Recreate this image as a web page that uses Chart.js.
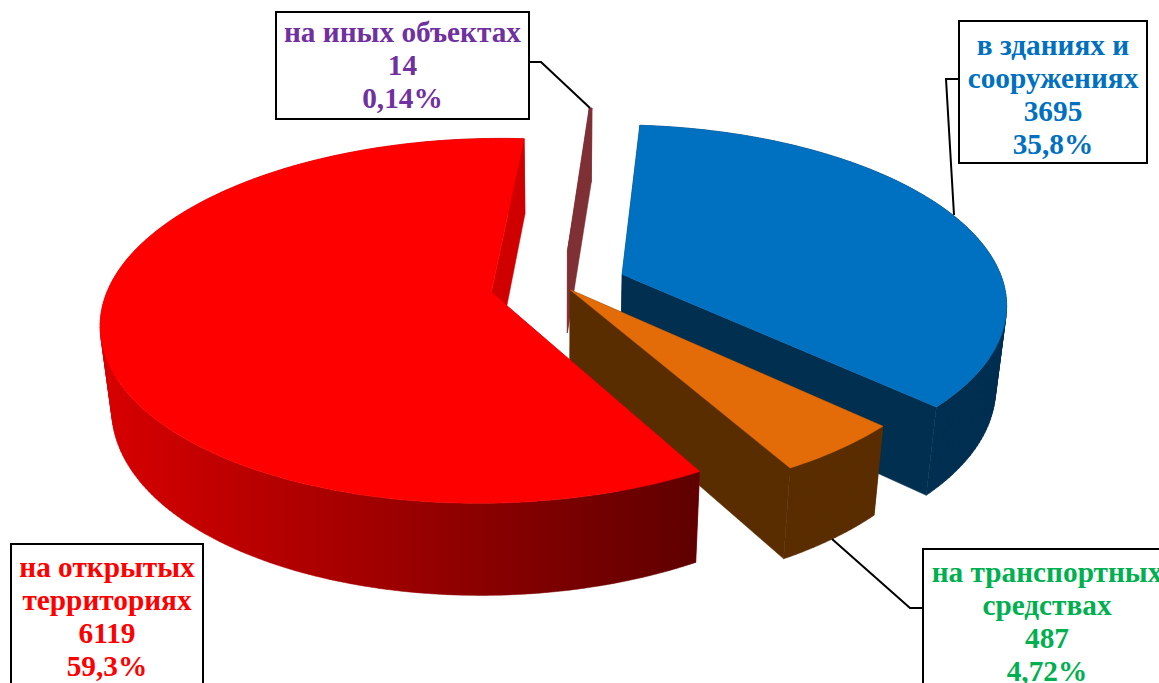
<!DOCTYPE html>
<html lang="ru">
<head>
  <meta charset="UTF-8">
  <title>Пожары по местам возникновения</title>
  <script src="https://cdn.jsdelivr.net/npm/chart.js"></script>
  <style>
    html, body { margin: 0; padding: 0; background: #fff; width: 1159px; height: 683px; overflow: hidden; }
    #wrap { position: relative; width: 1159px; height: 683px; overflow: hidden; }
    #chart-canvas { display: block; }
    .box {
      position: absolute; box-sizing: border-box; background: #fff; border: 2px solid #000;
      font: bold 29.3px/33px "Liberation Serif", serif; text-align: center; white-space: pre;
    }
  </style>
</head>
<body>
<div id="wrap">
  <canvas id="chart-canvas" width="1159" height="683"></canvas>
</div>

<script>
const categories = ['в зданиях и\nсооружениях', 'на транспортных\nсредствах', 'на открытых\nтерриториях', 'на иных объектах'];
const values = [3695, 487, 6119, 14];
const percents = ['35,8%', '4,72%', '59,3%', '0,14%'];

const topColors = ['#0070c0', '#e36c09', '#ff0000', '#7f3035'];
const wallColors = ['#002f50', '#5a2d00', '#d00000', '#7f3035'];
const textColors = ['#0070c0', '#00b050', '#ff0000', '#7030a0'];
const explode = [65, 13, 72, 75];
const drawOrder = [3, 0, 1, 2];

// box positions: left, top, width, height
const boxes = [
  [958, 20, 190, 144],
  [922, 548, 250, 160],
  [10, 543, 194, 160],
  [275, 11, 255, 109]
];
const boxPadTop = [7, 6, 6, 3];
const leaders = [
  [[958, 79], [946, 79], [954, 215]],
  [[832, 539], [910, 608], [922, 608]],
  [[529, 62], [541, 62], [590, 108]]
];

// fake 3D projection
const R = 382, squash = 0.46, persp = 0.155, depthW = 0.025, depth = 85;

function project(el, theta, r, low) {
  const mid = (el.startAngle + el.endAngle) / 2 + Math.PI / 2;
  const off = el.options.offset;
  const X = off * Math.sin(mid) + r * Math.sin(theta);
  const Z = -off * Math.cos(mid) - r * Math.cos(theta);
  const w = 1 - persp * Z / R + (low ? depthW : 0);
  return [el.x + X / w, el.y + (squash * Z + (low ? depth : 0)) / w];
}

function area(pts) {
  let a = 0;
  pts.forEach((p, i) => {
    const q = pts[(i + 1) % pts.length];
    a += p[0] * q[1] - q[0] * p[1];
  });
  return a;
}

// polys go into one path with the same winding, so neighbouring quads leave no seams
function fillPolys(ctx, polys, fill) {
  ctx.beginPath();
  polys.forEach(poly => {
    const pts = area(poly) < 0 ? poly.slice().reverse() : poly;
    pts.forEach((p, i) => i ? ctx.lineTo(p[0], p[1]) : ctx.moveTo(p[0], p[1]));
    ctx.closePath();
  });
  ctx.fillStyle = fill;
  ctx.fill();
  ctx.strokeStyle = fill;
  ctx.lineWidth = 0.5;
  ctx.stroke();
}

function arcPoints(el, low) {
  const a0 = el.startAngle + Math.PI / 2, a1 = el.endAngle + Math.PI / 2;
  const n = Math.max(2, Math.ceil((a1 - a0) * 180 / Math.PI));
  const pts = [];
  for (let i = 0; i <= n; i++) pts.push(project(el, a0 + (a1 - a0) * i / n, R, low));
  return pts;
}

function drawSlice(ctx, el, i) {
  const a0 = el.startAngle + Math.PI / 2, a1 = el.endAngle + Math.PI / 2;
  const apexTop = project(el, a0, 0, false), apexLow = project(el, a0, 0, true);
  const cutFace = a => fillPolys(ctx, [[apexTop, project(el, a, R, false), project(el, a, R, true), apexLow]], wallColors[i]);
  cutFace(a0);
  // outer wall
  let wall = wallColors[i];
  if (i === 2) {
    wall = ctx.createLinearGradient(100, 0, 697, 0);
    wall.addColorStop(0, '#d80000');
    wall.addColorStop(1, '#5f0000');
  }
  const up = arcPoints(el, false), down = arcPoints(el, true);
  const quads = [];
  for (let k = 0; k < up.length - 1; k++) quads.push([up[k], up[k + 1], down[k + 1], down[k]]);
  fillPolys(ctx, quads, wall);
  cutFace(a1);
  // top surface
  fillPolys(ctx, [[apexTop].concat(up)], topColors[i]);
}

const pie3d = {
  id: 'pie3d',
  beforeDatasetDraw(chart, args) {
    const ctx = chart.ctx;
    const arcs = chart.getDatasetMeta(args.index).data;
    drawOrder.forEach(i => drawSlice(ctx, arcs[i], i));
    return false;
  },
  afterDatasetsDraw(chart) {
    const ctx = chart.ctx;
    ctx.strokeStyle = '#000';
    ctx.lineWidth = 2;
    leaders.forEach(line => {
      ctx.beginPath();
      line.forEach((p, i) => i ? ctx.lineTo(p[0], p[1]) : ctx.moveTo(p[0], p[1]));
      ctx.stroke();
    });
  }
};

new Chart(document.getElementById('chart-canvas'), {
  type: 'pie',
  data: {
    labels: categories,
    datasets: [{ data: values, backgroundColor: topColors, offset: explode, borderWidth: 0 }]
  },
  options: {
    responsive: false,
    animation: false,
    rotation: 4.5,
    layout: { padding: { right: 35, bottom: 113 } },
    plugins: { legend: { display: false }, tooltip: { enabled: false } }
  },
  plugins: [pie3d]
});

const wrap = document.getElementById('wrap');
categories.forEach((name, i) => {
  const d = document.createElement('div');
  d.className = 'box';
  d.style.left = boxes[i][0] + 'px';
  d.style.top = boxes[i][1] + 'px';
  d.style.width = boxes[i][2] + 'px';
  d.style.height = boxes[i][3] + 'px';
  d.style.paddingTop = boxPadTop[i] + 'px';
  d.style.color = textColors[i];
  d.textContent = name + '\n' + values[i] + '\n' + percents[i];
  wrap.appendChild(d);
});
</script>
</body>
</html>
